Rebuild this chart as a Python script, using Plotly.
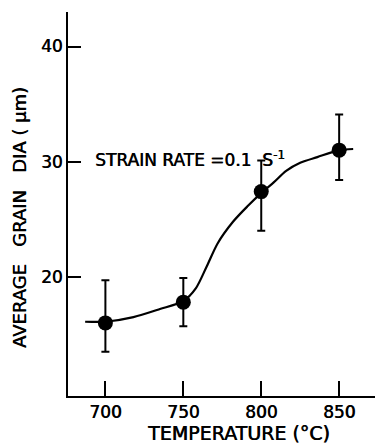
import plotly.graph_objects as go

# Measured data points
temps = [700, 750, 800, 850]
grain = [16.0, 17.8, 27.4, 31.0]
err_plus = [3.7, 2.1, 2.7, 3.1]
err_minus = [2.5, 2.1, 3.4, 2.6]

curve_t = [687, 700, 718, 735, 750, 758, 765, 772, 782, 791, 801, 808, 816, 825, 836, 850, 859]
curve_d = [16.1, 16.1, 16.5, 17.2, 17.9, 19.0, 20.9, 22.9, 24.8, 26.1, 27.4, 28.2, 29.2, 29.9, 30.4, 31.0, 31.1]

x_ticks = [700, 750, 800, 850]
y_ticks = [20, 30, 40]

FONT = "DejaVu Sans"
SHADOW = "0.6px 0px 0px black"

def f(size):
    return dict(family=FONT, size=size, color="black", shadow=SHADOW)

fig = go.Figure()
fig.add_trace(go.Scatter(
    x=curve_t, y=curve_d, mode="lines",
    line=dict(color="black", width=2.2, shape="spline", smoothing=0.8),
    hoverinfo="skip", showlegend=False))
fig.add_trace(go.Scatter(
    x=temps, y=grain, mode="markers",
    marker=dict(color="black", size=15),
    error_y=dict(type="data", array=err_plus, arrayminus=err_minus,
                 color="black", thickness=2, width=4),
    showlegend=False))

fig.update_layout(
    width=377, height=446,
    margin=dict(l=68, r=2, t=12, b=50),
    paper_bgcolor="white", plot_bgcolor="white",
    font=dict(family=FONT, color="black", size=17),
    xaxis=dict(range=[676, 873], tickvals=x_ticks, ticks="inside", ticklen=15,
               tickwidth=2, tickcolor="black", showline=True, linecolor="black",
               linewidth=2, showgrid=False, zeroline=False, tickfont=f(17)),
    yaxis=dict(range=[9.65, 43.0], tickvals=y_ticks, ticks="inside", ticklen=13,
               tickwidth=2, tickcolor="black", showline=True, linecolor="black",
               linewidth=2, showgrid=False, zeroline=False, tickfont=f(17)),
    annotations=[
        dict(text="STRAIN RATE =0.1  S<sup>-1</sup>", x=692, y=30, xref="x", yref="y",
             xanchor="left", yanchor="middle", showarrow=False, font=f(17), yshift=3),
        dict(text="TEMPERATURE (°C)", x=(238 - 68) / 307, y=-(433 - 395.7) / 383.7,
             xref="paper", yref="paper", xanchor="center", yanchor="middle",
             showarrow=False, font=f(19)),
        dict(text="AVERAGE   GRAIN   DIA ( μm)", textangle=-90,
             x=(19 - 68) / 307, y=(395.7 - 218) / 383.7, xref="paper", yref="paper",
             xanchor="center", yanchor="middle", showarrow=False, font=f(18)),
    ],
)

fig.write_html("out.html")
